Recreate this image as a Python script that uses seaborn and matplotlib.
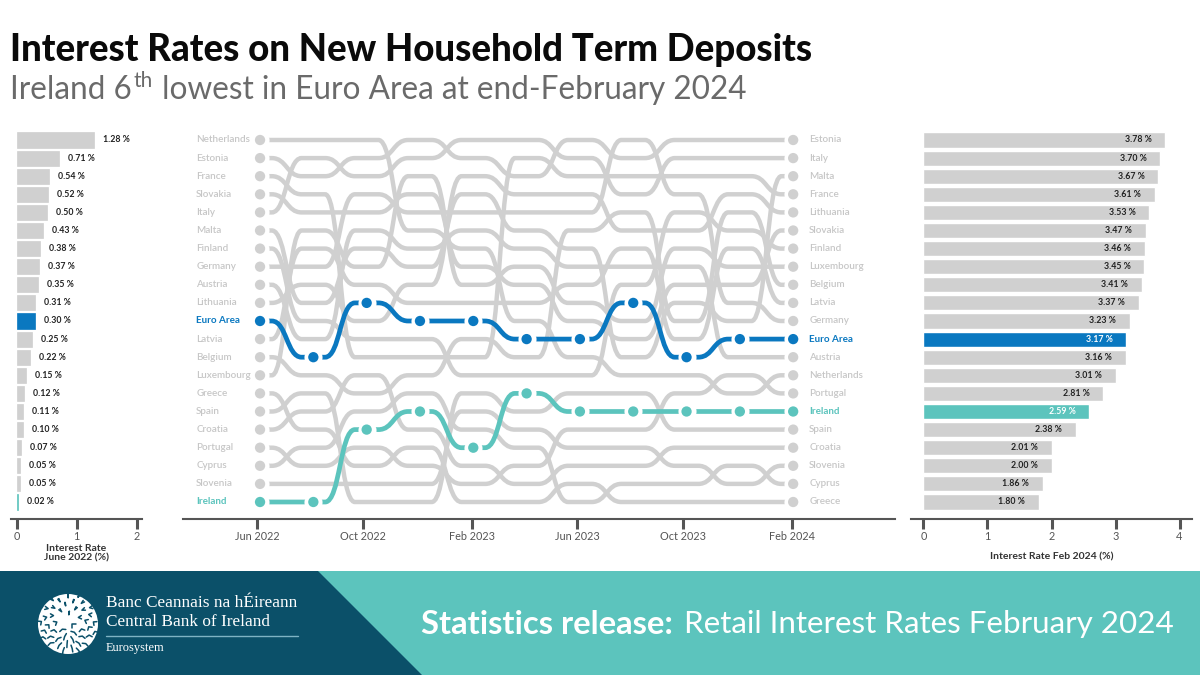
import numpy as np
import pandas as pd
import seaborn as sns
import matplotlib.pyplot as plt
from matplotlib.patches import Polygon, Rectangle, Circle, PathPatch
from matplotlib.path import Path

# rank order of the countries at each month (top of chart first)
dates = ["Jun 2022", "Aug 2022", "Oct 2022", "Dec 2022", "Feb 2023", "Apr 2023",
         "Jun 2023", "Aug 2023", "Oct 2023", "Dec 2023", "Feb 2024"]
tick_labels = ["Jun 2022", "Oct 2022", "Feb 2023", "Jun 2023", "Oct 2023", "Feb 2024"]

order_jun22 = ["NL", "EE", "FR", "SK", "IT", "MT", "FI", "DE", "AT", "LT", "EA", "LV", "BE", "LU", "GR", "ES", "HR", "PT", "CY", "SI", "IE"]
order_aug22 = ["NL", "IT", "EE", "FR", "SK", "LU", "LV", "DE", "LT", "MT", "FI", "AT", "EA", "BE", "ES", "HR", "GR", "CY", "PT", "SI", "IE"]
order_oct22 = ["NL", "EE", "IT", "DE", "SK", "AT", "MT", "LU", "LV", "EA", "LT", "FI", "FR", "HR", "BE", "CY", "IE", "PT", "GR", "SI", "ES"]
order_dec22 = ["EE", "IT", "LU", "SK", "DE", "NL", "AT", "MT", "LT", "LV", "EA", "FI", "FR", "BE", "CY", "IE", "HR", "GR", "PT", "SI", "ES"]
order_feb23 = ["IT", "EE", "LT", "MT", "DE", "AT", "NL", "SK", "LU", "LV", "EA", "BE", "FR", "FI", "ES", "SI", "CY", "IE", "HR", "PT", "GR"]
order_apr23 = ["IT", "FR", "EE", "LT", "DE", "MT", "AT", "LU", "SK", "LV", "NL", "EA", "BE", "FI", "IE", "ES", "SI", "CY", "PT", "HR", "GR"]
order_jun23 = ["EE", "IT", "FR", "LT", "DE", "BE", "MT", "AT", "LV", "LU", "SK", "EA", "NL", "FI", "ES", "IE", "PT", "SI", "HR", "GR", "CY"]
order_aug23 = ["DE", "EE", "FR", "IT", "BE", "LT", "LV", "AT", "FI", "EA", "LU", "SK", "MT", "NL", "ES", "IE", "PT", "SI", "HR", "CY", "GR"]
order_oct23 = ["EE", "IT", "FR", "DE", "FI", "LT", "LU", "AT", "SK", "MT", "BE", "LV", "EA", "NL", "PT", "IE", "ES", "HR", "SI", "CY", "GR"]
order_dec23 = ["EE", "IT", "FR", "LT", "BE", "FI", "LV", "LU", "SK", "DE", "MT", "EA", "AT", "PT", "NL", "IE", "ES", "HR", "CY", "SI", "GR"]
order_feb24 = ["EE", "IT", "MT", "FR", "LT", "SK", "FI", "LU", "BE", "LV", "DE", "EA", "AT", "NL", "PT", "IE", "ES", "HR", "SI", "CY", "GR"]
orders = [order_jun22, order_aug22, order_oct22, order_dec22, order_feb23, order_apr23,
          order_jun23, order_aug23, order_oct23, order_dec23, order_feb24]

names = {"NL": "Netherlands", "EE": "Estonia", "FR": "France", "SK": "Slovakia", "IT": "Italy",
         "MT": "Malta", "FI": "Finland", "DE": "Germany", "AT": "Austria", "LT": "Lithuania",
         "EA": "Euro Area", "LV": "Latvia", "BE": "Belgium", "LU": "Luxembourg", "GR": "Greece",
         "ES": "Spain", "HR": "Croatia", "PT": "Portugal", "CY": "Cyprus", "SI": "Slovenia",
         "IE": "Ireland"}

rates_jun22 = [1.28, 0.71, 0.54, 0.52, 0.50, 0.43, 0.38, 0.37, 0.35, 0.31, 0.30,
               0.25, 0.22, 0.15, 0.12, 0.11, 0.10, 0.07, 0.05, 0.05, 0.02]
rates_feb24 = [3.78, 3.70, 3.67, 3.61, 3.53, 3.47, 3.46, 3.45, 3.41, 3.37, 3.23,
               3.17, 3.16, 3.01, 2.81, 2.59, 2.38, 2.01, 2.00, 1.86, 1.80]

GREY = "#d0d0d0"
BLUE = "#0a78c0"
TEAL = "#5cc4bd"
DARK = "#555555"
NAVY = "#0b5069"
colors = {"EA": BLUE, "IE": TEAL}
palette = {"other": GREY, "EA": BLUE, "IE": TEAL}


def group(code):
    return code if code in colors else "other"


W, H = 1200, 675
sns.set_theme(style="white")
plt.rcParams["font.family"] = ["Lato", "DejaVu Sans"]
fig = plt.figure(figsize=(12, 6.75), dpi=100)


def px_axes(x0, x1, y_top, y_bottom):
    ax = fig.add_axes([x0 / W, 1 - y_bottom / H, (x1 - x0) / W, (y_bottom - y_top) / H])
    ax.patch.set_alpha(0)
    return ax


# background, headings and footer work in pixel coordinates
bg = fig.add_axes([0, 0, 1, 1])
bg.set_xlim(0, W)
bg.set_ylim(H, 0)
bg.axis("off")

bg.text(10, 50, "Interest Rates on New Household Term Deposits", fontsize=26.4,
        fontweight="black", color="#0a0a0a", va="center")
bg.text(10, 90, "Ireland 6", fontsize=22.7, color="#6a6a6a", va="center")
bg.text(134, 81, "th", fontsize=15, color="#6a6a6a", va="center")
bg.text(162, 90, "lowest in Euro Area at end-February 2024", fontsize=22.7, color="#6a6a6a", va="center")

bg.add_patch(Rectangle((0, 571), W, 104, color=TEAL, lw=0))
bg.add_patch(Polygon([(0, 571), (318, 571), (422, 675), (0, 675)], color=NAVY, lw=0))
bg.add_patch(Circle((68, 624), 30, color="white", lw=0))
# rough stand-in for the logo's knotwork
for i in range(46):
    a = i * 2.4
    r = 4 + 25 * np.sqrt(i / 46)
    cx, cy = 68 + r * np.cos(a), 624 + r * np.sin(a)
    bg.plot([cx - 3.5 * np.sin(a * 2), cx, cx + 3.5 * np.cos(a)],
            [cy + 3.5 * np.cos(a * 2), cy, cy + 3.5 * np.sin(a)], color=NAVY, lw=1.1)

serif = "Liberation Serif"
bg.text(106, 603, "Banc Ceannais na hÉireann", family=serif, fontsize=12.4, color="white", va="center")
bg.text(106, 622, "Central Bank of Ireland", family=serif, fontsize=12.4, color="white", va="center")
bg.plot([106, 298], [635.5, 635.5], color="#7fb3c4", lw=1)
bg.text(106, 648, "Eurosystem", family=serif, fontsize=8.9, color="white", va="center")
bg.text(421, 624, "Statistics release:", fontsize=23.6, fontweight="bold", color="white", va="center")
bg.text(684, 624, "Retail Interest Rates February 2024", fontsize=22.6, color="white", va="center")

# rows sit 18.1 px apart, row 0 at y=140
y_top, y_bottom = 140 - 18.1, 519
row_top, row_bottom = -1, (y_bottom - 140) / 18.1


def style_axis(ax, ticks, labels):
    ax.set_ylim(row_bottom, row_top)
    for s in ["top", "left", "right"]:
        ax.spines[s].set_visible(False)
    ax.spines["bottom"].set_color(DARK)
    ax.spines["bottom"].set_linewidth(1.5)
    ax.set_yticks([])
    ax.set_ylabel("")
    ax.set_xticks(ticks)
    ax.set_xticklabels(labels, fontsize=7.8, color=DARK)
    ax.tick_params(axis="x", bottom=True, length=7, width=2.2, color=DARK, pad=2)


# left bars
df_left = pd.DataFrame({"code": order_jun22, "rate": rates_jun22})
df_left["group"] = df_left["code"].map(group)
ax_l = px_axes(11, 142, y_top, y_bottom)
sns.barplot(data=df_left, x="rate", y="code", hue="group", palette=palette, order=order_jun22,
            dodge=False, width=0.83, legend=False, saturation=1, ax=ax_l)
# the smallest bars are thinner than a pixel without an edge
for p in ax_l.patches:
    if p.get_width() > 0:
        p.set_edgecolor(p.get_facecolor())
        p.set_linewidth(0.5)
ax_l.set_xlim(-0.095, 2.088)
style_axis(ax_l, [0, 1, 2], ["0", "1", "2"])
ax_l.set_xlabel("Interest Rate\nJune 2022 (%)", fontsize=7.5, fontweight="bold", color="#333333", labelpad=1, linespacing=1.1)
for i, v in enumerate(rates_jun22):
    ax_l.annotate(f"{v:.2f} %", (v, i), xytext=(6.5, 0), textcoords="offset points",
                  fontsize=6.3, fontweight="bold", color="#222222", va="center")

# right bars
df_right = pd.DataFrame({"code": order_feb24, "rate": rates_feb24})
df_right["group"] = df_right["code"].map(group)
ax_r = px_axes(911, 1192, y_top, y_bottom)
sns.barplot(data=df_right, x="rate", y="code", hue="group", palette=palette, order=order_feb24,
            dodge=False, width=0.83, legend=False, saturation=1, ax=ax_r)
ax_r.set_xlim(-0.195, 4.195)
style_axis(ax_r, [0, 1, 2, 3, 4], ["0", "1", "2", "3", "4"])
ax_r.set_xlabel("Interest Rate Feb 2024 (%)", fontsize=7.5, fontweight="bold", color="#333333", labelpad=7)
for i, (c, v) in enumerate(zip(order_feb24, rates_feb24)):
    ax_r.annotate(f"{v:.2f} %", (v, i), xytext=(-10, 0), textcoords="offset points", ha="right",
                  fontsize=6.3, fontweight="bold", color="white" if c in colors else "#222222", va="center")

# bump chart in the middle, x is the month index
ax_c = px_axes(183, 895, y_top, y_bottom)
ax_c.set_xlim(-1.445, 11.91)


def bump_path(ranks):
    verts = [(0.12, ranks[0])]
    codes = [Path.MOVETO]
    for i in range(len(ranks) - 1):
        mid = i + 0.5
        verts += [(i + 0.22, ranks[i]), (mid, ranks[i]), (mid, ranks[i + 1]), (i + 0.78, ranks[i + 1])]
        codes += [Path.LINETO, Path.CURVE4, Path.CURVE4, Path.CURVE4]
    verts.append((len(ranks) - 1.12, ranks[-1]))
    codes.append(Path.LINETO)
    return Path(verts, codes)


for code in order_jun22:
    if code in colors:
        continue
    ranks = [o.index(code) for o in orders]
    ax_c.add_patch(PathPatch(bump_path(ranks), fill=False, ec=GREY, lw=3.2, capstyle="butt", zorder=2))
for code in colors:
    ranks = [o.index(code) for o in orders]
    ax_c.add_patch(PathPatch(bump_path(ranks), fill=False, ec=colors[code], lw=3.4, capstyle="butt", zorder=3))

# dots at both ends for everyone, every month for the two highlighted lines
rows = []
for i, o in enumerate(orders):
    for r, code in enumerate(o):
        if i in (0, len(orders) - 1) or code in colors:
            rows.append({"month": i, "rank": r, "group": group(code)})
dots = pd.DataFrame(rows)
sns.scatterplot(data=dots, x="month", y="rank", color="white", s=170, linewidth=0, legend=False, zorder=4, ax=ax_c)
sns.scatterplot(data=dots, x="month", y="rank", hue="group", palette=palette, s=55, linewidth=0, legend=False, zorder=5, ax=ax_c)

ax_c.set_xlabel("")
style_axis(ax_c, [-0.05, 1.93, 3.98, 5.95, 7.93, 9.98], tick_labels)

for r, code in enumerate(order_jun22):
    ax_c.annotate(names[code], (0, r), xytext=(-46, 0), textcoords="offset points", va="center", fontsize=7.1,
                  color=colors.get(code, "#c6c6c6"), fontweight="bold" if code in colors else "semibold")
for r, code in enumerate(order_feb24):
    ax_c.annotate(names[code], (10, r), xytext=(11.5, 0), textcoords="offset points", va="center", fontsize=7.1,
                  color=colors.get(code, "#c6c6c6"), fontweight="bold" if code in colors else "semibold")

fig.savefig("out.png", dpi=100)
